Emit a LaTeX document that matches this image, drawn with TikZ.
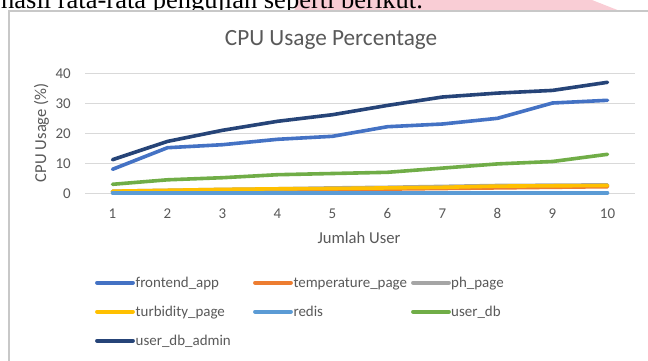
\documentclass[tikz,border=0pt]{standalone}
\usepackage{fontspec}
\setmainfont{Carlito}
\newfontfamily\docserif{Liberation Serif}

\definecolor{txtgray}{HTML}{595959}
\definecolor{gridgray}{HTML}{D9D9D9}
\definecolor{framegray}{HTML}{C8C8C8}
\definecolor{pinkwash}{HTML}{F9CDD5}
\definecolor{sFrontend}{HTML}{4472C4}
\definecolor{sTemp}{HTML}{ED7D31}
\definecolor{sPh}{HTML}{A5A5A5}
\definecolor{sTurb}{HTML}{FFC000}
\definecolor{sRedis}{HTML}{5B9BD5}
\definecolor{sUserdb}{HTML}{70AD47}
\definecolor{sAdmin}{HTML}{264478}

\begin{document}
\begin{tikzpicture}[x=1bp,y=-1bp,
  gridline/.style={gridgray, line width=1bp},
  ticklabel/.style={text=txtgray, inner sep=0, font=\fontsize{15}{18}\selectfont},
  axistitle/.style={text=txtgray, inner sep=0, font=\fontsize{16.7}{20}\selectfont},
  serie/.style={line width=3.6bp, line cap=round, line join=round},
  legline/.style={line width=3.8bp, line cap=round},
  legtext/.style={text=txtgray, inner sep=0, anchor=base west, font=\fontsize{15}{18}\selectfont},
]
\useasboundingbox (0,0) rectangle (648,360);

% running text of the page above the chart, with the pink mark behind it
\fill[pinkwash] (298,0) -- (592,0) -- (620,11) -- (294,11) -- cycle;
\node[anchor=base west, inner sep=0, font=\docserif\fontsize{26.6}{30}\selectfont] (lead) at (1,8)
  {hasil rata-rata pengujian seperti berikut.};

% chart area
\fill[white] (8.5,10.5) rectangle (660,370);
\draw[framegray, line width=1.5bp] (9,370) -- (9,11) -- (660,11);

\node[anchor=base, text=txtgray, inner sep=0, font=\fontsize{23.3}{28}\selectfont] (title) at (331,45.5)
  {CPU Usage Percentage};

% value axis: gridlines and labels
\foreach \v in {0,10,20,30,40} {
  \draw[gridline] (85,{193.3-3*\v}) -- (635,{193.3-3*\v});
  \node[ticklabel, anchor=east] (ylab\v) at (71,{193.8-3*\v}) {\v};
}
% category labels
\foreach \i in {1,...,10} {
  \node[ticklabel, anchor=base] (xlab\i) at ({112.5+55*(\i-1)},218.7) {\i};
}

\node[axistitle, anchor=base] (xtitle) at (359,243.3) {Jumlah User};
\node[axistitle, anchor=base, rotate=90] (ytitle) at (46,132.7) {CPU Usage (\%)};

% data series (x: category slot, y: percent)
\begin{scope}[shift={(85,193.3)}, x=55bp, y=3bp]
  \draw[serie, sFrontend] plot coordinates {(0.5,8) (1.5,15.2) (2.5,16.2) (3.5,18) (4.5,19) (5.5,22.2) (6.5,23.1) (7.5,25) (8.5,30.1) (9.5,31)};
  \draw[serie, sTemp] plot coordinates {(0.5,0.5) (1.5,0.7) (2.5,0.9) (3.5,1.1) (4.5,1.2) (5.5,1.4) (6.5,1.6) (7.5,1.8) (8.5,2.0) (9.5,2.2)};
  \draw[serie, sPh] plot coordinates {(0.5,0.7) (1.5,1.0) (2.5,1.3) (3.5,1.5) (4.5,1.8) (5.5,2.0) (6.5,2.3) (7.5,2.6) (8.5,2.7) (9.5,2.8)};
  \draw[serie, sTurb] plot coordinates {(0.5,0.7) (1.5,1.0) (2.5,1.3) (3.5,1.5) (4.5,1.6) (5.5,1.8) (6.5,2.0) (7.5,2.4) (8.5,2.5) (9.5,2.6)};
  \draw[serie, sRedis] plot coordinates {(0.5,0.2) (1.5,0.2) (2.5,0.2) (3.5,0.2) (4.5,0.2) (5.5,0.2) (6.5,0.2) (7.5,0.2) (8.5,0.2) (9.5,0.2)};
  \draw[serie, sUserdb] plot coordinates {(0.5,3) (1.5,4.5) (2.5,5.2) (3.5,6.2) (4.5,6.6) (5.5,7) (6.5,8.4) (7.5,9.8) (8.5,10.6) (9.5,13)};
  \draw[serie, sAdmin] plot coordinates {(0.5,11.2) (1.5,17.3) (2.5,21) (3.5,24) (4.5,26.2) (5.5,29.3) (6.5,32.1) (7.5,33.4) (8.5,34.3) (9.5,37)};
\end{scope}

% legend
\coordinate (lg1a) at (97,282.7);  \coordinate (lg1b) at (133,282.7);
\coordinate (lg2a) at (255,282.7); \coordinate (lg2b) at (291,282.7);
\coordinate (lg3a) at (413,282.7); \coordinate (lg3b) at (449,282.7);
\coordinate (lg4a) at (97,311.7);  \coordinate (lg4b) at (133,311.7);
\coordinate (lg5a) at (255,311.7); \coordinate (lg5b) at (291,311.7);
\coordinate (lg6a) at (413,311.7); \coordinate (lg6b) at (449,311.7);
\coordinate (lg7a) at (97,340.7);  \coordinate (lg7b) at (133,340.7);
\draw[legline, sFrontend] (lg1a) -- (lg1b);
\draw[legline, sTemp] (lg2a) -- (lg2b);
\draw[legline, sPh] (lg3a) -- (lg3b);
\draw[legline, sTurb] (lg4a) -- (lg4b);
\draw[legline, sRedis] (lg5a) -- (lg5b);
\draw[legline, sUserdb] (lg6a) -- (lg6b);
\draw[legline, sAdmin] (lg7a) -- (lg7b);
\node[legtext] (lt1) at (135.5,287.6) {frontend\_app};
\node[legtext] (lt2) at (293.3,287.6) {temperature\_page};
\node[legtext] (lt3) at (451,287.6) {ph\_page};
\node[legtext] (lt4) at (135.5,316.6) {turbidity\_page};
\node[legtext] (lt5) at (293.3,316.6) {redis};
\node[legtext] (lt6) at (451,316.6) {user\_db};
\node[legtext] (lt7) at (135.5,345.6) {user\_db\_admin};
\end{tikzpicture}
\end{document}
